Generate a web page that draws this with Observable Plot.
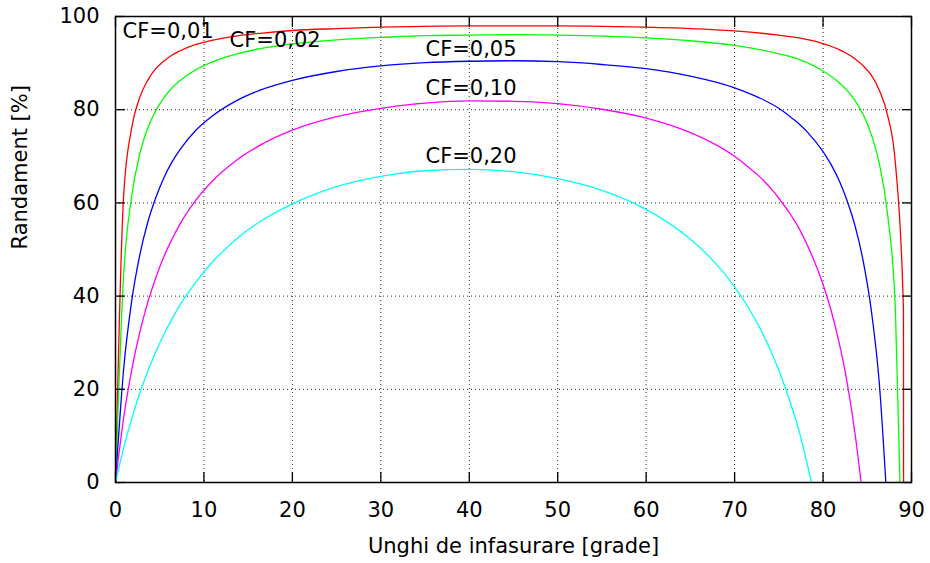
<!DOCTYPE html>
<html><head><meta charset="utf-8">
<script src="https://cdn.jsdelivr.net/npm/d3@7"></script>
<script src="https://cdn.jsdelivr.net/npm/@observablehq/plot@0.6"></script>
<style>body{margin:0;background:#fff}</style>
</head><body><div id="chart"></div>
<script>
// Sample angles (degrees)
const angles = [0, 0.91, 1.82, 2.73, 3.64, 4.55, 5.45, 6.36, 7.27, 9.09, 10.91, 13.64, 16.36, 20, 25, 30, 35, 40, 45, 50, 55, 60, 65, 67.27, 70, 71.82, 72.73, 74.55, 75, 76.36, 77.27, 78.18, 80, 80.91, 81.82, 82.73, 83.64, 84.55, 85.45, 86.36, 87.27, 88.18, 89.09];
// Efficiency [%] per friction coefficient (null = not sampled)
const cf001 = [0, 61.3, 76.0, 82.6, 86.3, 88.8, 90.4, 91.7, 92.6, 94.0, 94.9, 95.8, 96.4, 97.0, 97.4, 97.7, 97.9, 98.0, 98.0, 98.0, 97.9, 97.7, 97.4, null, 96.9, null, null, null, 96.0, null, 95.4, null, 94.2, null, 92.9, 92.0, 90.9, 89.4, 87.4, 84.2, 79.0, 68.5, 37.0];
const cf002 = [0, 44.2, 61.3, 70.4, 76.0, 79.8, 82.5, 84.6, 86.2, 88.6, 90.2, 91.9, 93.1, 94.1, 95.0, 95.5, 95.9, 96.0, 96.1, 96.0, 95.8, 95.4, 94.8, null, 93.8, null, null, null, 92.0, null, 90.8, null, 88.3, null, 85.8, 84.1, 81.9, 78.9, 74.7, 68.4, 58.0, 37.0, null];
const cf005 = [0, 24.1, 38.8, 48.7, 55.8, 61.1, 65.3, 68.7, 71.4, 75.6, 78.6, 81.9, 84.2, 86.3, 88.2, 89.4, 90.1, 90.4, 90.5, 90.3, 89.7, 88.8, 87.2, null, 84.7, null, 82.6, null, 80.3, 78.4, 77.0, 75.3, 71.0, 68.2, 64.8, 60.4, 54.9, 47.4, 37.0, 21.3, null, null, null];
const cf010 = [0, 13.7, 24.0, 32.1, 38.6, 43.9, 48.4, 52.1, 55.4, 60.6, 64.6, 69.1, 72.4, 75.6, 78.5, 80.3, 81.4, 81.9, 81.8, 81.3, 80.1, 78.2, 75.1, 73.1, 70.0, 67.3, 65.8, 62.1, 61.0, 57.4, 54.6, 51.1, 42.5, 36.9, 30.0, 21.4, 10.2, null, null, null, null, null, null];
const cf020 = [0, 7.3, 13.6, 19.1, 23.8, 28.0, 31.7, 35.0, 38.0, 43.0, 47.2, 52.2, 56.0, 59.8, 63.5, 65.7, 66.9, 67.2, 66.7, 65.2, 62.7, 58.6, 52.2, 48.2, 42.0, 36.7, 33.6, 26.2, 24.1, 16.8, 11.2, 4.2, null, null, null, null, null, null, null, null, null, null, null];
// Angle where each curve reaches 0 %
const zeroAngles = [89.1, 88.7, 87.1, 84.3, 78.7];

const seriesNames = ["CF=0,01", "CF=0,02", "CF=0,05", "CF=0,10", "CF=0,20"];
const seriesColors = ["#ff0000", "#00ff00", "#0000ff", "#ff00ff", "#00ffff"];
const labelX = [0.8, 12.9, 35.05, 35.05, 35.05];
const labelY = [96.8, 95.0, 92.9, 84.7, 70.0];

const xTicks = [0, 10, 20, 30, 40, 50, 60, 70, 80, 90];
const yTicks = [0, 20, 40, 60, 80, 100];
const xLabel = "Unghi de infasurare [grade]";
const yLabel = "Randament [%]";

const seriesValues = [cf001, cf002, cf005, cf010, cf020];
const rows = [];
seriesValues.forEach((vals, s) => {
  angles.forEach((a, i) => {
    if (vals[i] != null) rows.push({angle: a, eff: vals[i], series: seriesNames[s]});
  });
  rows.push({angle: zeroAngles[s], eff: 0, series: seriesNames[s]});
});
const labels = seriesNames.map((n, i) => ({name: n, x: labelX[i], y: labelY[i]}));

const FS = 21;
const chart = Plot.plot({
  width: 930,
  height: 563,
  marginLeft: 115,
  marginRight: 19,
  marginTop: 16,
  marginBottom: 81,
  style: {fontFamily: "'DejaVu Sans', sans-serif", fontSize: FS + "px", color: "#000", background: "#fff", overflow: "visible"},
  x: {domain: [0, 90]},
  y: {domain: [0, 100]},
  color: {domain: seriesNames, range: seriesColors},
  marks: [
    Plot.gridX(xTicks.slice(1, -1), {stroke: "#000", strokeOpacity: 0.85, strokeDasharray: "1,3"}),
    Plot.gridY(yTicks.slice(1, -1), {stroke: "#000", strokeOpacity: 0.85, strokeDasharray: "1,3"}),
    Plot.line(rows, {x: "angle", y: "eff", z: "series", stroke: "series", strokeWidth: 1.3, curve: "monotone-x", clip: true}),
    Plot.text(labels, {x: "x", y: "y", text: "name", textAnchor: "start", lineAnchor: "middle", fontSize: FS, fill: "#000"}),
    Plot.axisX(xTicks, {anchor: "bottom", tickSize: -10, tickFormat: () => "", label: null, strokeWidth: 1.3}),
    Plot.axisX(xTicks, {anchor: "top", tickSize: -10, tickFormat: () => "", label: null, strokeWidth: 1.3}),
    Plot.axisY(yTicks, {anchor: "left", tickSize: -10, tickFormat: () => "", label: null, strokeWidth: 1.3}),
    Plot.axisY(yTicks, {anchor: "right", tickSize: -10, tickFormat: () => "", label: null, strokeWidth: 1.3}),
    Plot.axisX(xTicks, {anchor: "bottom", tickSize: 0, tickPadding: 20, label: null, fontSize: FS}),
    Plot.axisY(yTicks, {anchor: "left", tickSize: 0, tickPadding: 16, label: null, fontSize: FS}),
    Plot.text([xLabel], {frameAnchor: "bottom", dy: 64, fontSize: FS, lineAnchor: "middle"}),
    Plot.text([yLabel], {frameAnchor: "left", dx: -95, rotate: -90, fontSize: FS, lineAnchor: "middle"}),
    Plot.frame({stroke: "#000", strokeWidth: 1.5})
  ]
});
document.getElementById("chart").appendChild(chart);
</script>
</body></html>
